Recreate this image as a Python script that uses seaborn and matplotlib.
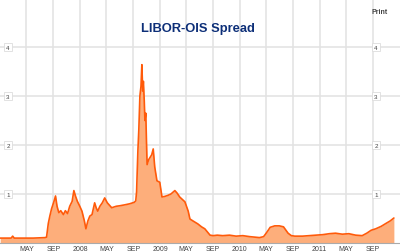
import numpy as np
import pandas as pd
import matplotlib
matplotlib.use("Agg")
import matplotlib.pyplot as plt
import matplotlib.transforms as mtransforms
import seaborn as sns

# LIBOR-OIS spread
dates = ["2007-01-01", "2007-02-20", "2007-02-27", "2007-03-06", "2007-04-15", "2007-06-01",
         "2007-07-25", "2007-08-01", "2007-08-09", "2007-08-16", "2007-08-24", "2007-09-04",
         "2007-09-11", "2007-09-18", "2007-09-26", "2007-10-05", "2007-10-17", "2007-10-26",
         "2007-11-05", "2007-11-15", "2007-11-26", "2007-12-04", "2007-12-12", "2007-12-20",
         "2007-12-31", "2008-01-10", "2008-01-21", "2008-01-28", "2008-02-06", "2008-02-15",
         "2008-02-25", "2008-03-08", "2008-03-15", "2008-03-22", "2008-04-01", "2008-04-12",
         "2008-04-23", "2008-05-05", "2008-05-25", "2008-06-15", "2008-07-01", "2008-07-25",
         "2008-08-15", "2008-09-05", "2008-09-12", "2008-09-16", "2008-09-18", "2008-09-22",
         "2008-09-26", "2008-10-01", "2008-10-06", "2008-10-10", "2008-10-14", "2008-10-17",
         "2008-10-21", "2008-10-24", "2008-10-28", "2008-10-31", "2008-11-03", "2008-11-10",
         "2008-11-17", "2008-11-24", "2008-12-01", "2008-12-08", "2008-12-18", "2008-12-31",
         "2009-01-10", "2009-01-22", "2009-02-05", "2009-02-20", "2009-03-10", "2009-03-20",
         "2009-04-01", "2009-04-25", "2009-05-10", "2009-05-18", "2009-06-01", "2009-06-23",
         "2009-07-10", "2009-07-25", "2009-08-18", "2009-09-01", "2009-09-20", "2009-10-15",
         "2009-11-15", "2009-12-15", "2010-01-15", "2010-02-15", "2010-03-10", "2010-04-01",
         "2010-04-20", "2010-05-05", "2010-05-20", "2010-06-10", "2010-07-01", "2010-07-20",
         "2010-08-10", "2010-08-25", "2010-09-10", "2010-10-15", "2010-11-15", "2010-12-15",
         "2011-01-15", "2011-02-15", "2011-03-15", "2011-04-15", "2011-05-15", "2011-06-15",
         "2011-07-15", "2011-08-05", "2011-08-25", "2011-09-15", "2011-10-10", "2011-11-01",
         "2011-11-20", "2011-12-07"]
spread = [0.10, 0.10, 0.14, 0.10, 0.10, 0.10,
          0.11, 0.12, 0.40, 0.55, 0.70, 0.85,
          0.96, 0.75, 0.62, 0.66, 0.58, 0.66,
          0.60, 0.75, 0.85, 1.07, 0.95, 0.85,
          0.75, 0.65, 0.45, 0.29, 0.45, 0.55,
          0.58, 0.82, 0.72, 0.65, 0.75, 0.82,
          0.92, 0.82, 0.72, 0.75, 0.76, 0.78,
          0.80, 0.83, 0.86, 1.05, 1.35, 1.90,
          2.30, 3.00, 3.20, 3.64, 3.10, 3.30,
          2.90, 2.50, 2.65, 2.10, 1.60, 1.70,
          1.75, 1.80, 1.92, 1.55, 1.27, 1.24,
          0.94, 0.95, 0.97, 1.00, 1.07, 1.02,
          0.94, 0.84, 0.65, 0.49, 0.45, 0.39,
          0.33, 0.29, 0.16, 0.15, 0.16, 0.15,
          0.16, 0.14, 0.15, 0.13, 0.12, 0.11,
          0.13, 0.22, 0.32, 0.35, 0.35, 0.33,
          0.20, 0.15, 0.14, 0.14, 0.15, 0.16,
          0.17, 0.19, 0.20, 0.18, 0.19, 0.16,
          0.15, 0.20, 0.26, 0.29, 0.34, 0.40,
          0.45, 0.51]

tick_dates = ["2007-05-01", "2007-09-01", "2008-01-01", "2008-05-01", "2008-09-01",
              "2009-01-01", "2009-05-01", "2009-09-01", "2010-01-01", "2010-05-01",
              "2010-09-01", "2011-01-01", "2011-05-01", "2011-09-01"]
tick_labels = ["MAY", "SEP", "2008", "MAY", "SEP", "2009", "MAY", "SEP", "2010",
               "MAY", "SEP", "2011", "MAY", "SEP"]
y_levels = [1, 2, 3, 4]

df = pd.DataFrame({"date": pd.to_datetime(dates), "spread": spread})

sns.set_theme(style="white")
plt.rcParams["font.family"] = ["Liberation Sans", "DejaVu Sans"]

fig = plt.figure(figsize=(4, 2.53), dpi=100)
ax = fig.add_axes([0, 9 / 253, 1, 244 / 253])

# grid
for d in pd.to_datetime(tick_dates):
    ax.axvline(d, color="#e2e2e2", lw=1.1, zorder=0)
for v in y_levels:
    ax.axhline(v, color="#e2e2e2", lw=1.1, zorder=0)

ax.fill_between(df["date"], df["spread"], 0, color="#fdae7b", lw=0, zorder=1)
sns.lineplot(data=df, x="date", y="spread", ax=ax, color="#ff5a0a", lw=1.2, zorder=2)

ax.set_xlim(pd.Timestamp("2006-12-31"), pd.Timestamp("2012-01-04"))
ax.set_ylim(0, 4.98)
ax.set_xlabel("")
ax.set_ylabel("")
ax.set_yticks([])
ax.set_xticks(pd.to_datetime(tick_dates))
ax.set_xticklabels(tick_labels, fontsize=5, color="#444444")
ax.tick_params(axis="x", length=0, pad=1.5)

for side in ["left", "right"]:
    ax.spines[side].set_visible(False)
ax.spines["top"].set_color("#999999")
ax.spines["top"].set_linewidth(1.2)
ax.spines["bottom"].set_color("#aaaaaa")
ax.spines["bottom"].set_linewidth(0.8)

# in-plot value labels on both sides
trans = mtransforms.blended_transform_factory(ax.transAxes, ax.transData)
box = dict(boxstyle="square,pad=0.3", fc="white", ec="#dddddd", lw=0.6)
for v in y_levels:
    ax.text(0.02, v, str(v), transform=trans, fontsize=4.5, color="#444444",
            ha="center", va="center", bbox=box, zorder=3)
    ax.text(0.94, v, str(v), transform=trans, fontsize=4.5, color="#444444",
            ha="center", va="center", bbox=box, zorder=3)

fig.text(0.495, 1 - 29 / 253, "LIBOR-OIS Spread", fontsize=9.3, fontweight="bold",
         color="#0d2f78", ha="center", va="center")
fig.text(0.948, 1 - 13 / 253, "Print", fontsize=5, fontweight="bold",
         color="#444444", ha="center", va="center")

fig.savefig("out.png", dpi=100)
